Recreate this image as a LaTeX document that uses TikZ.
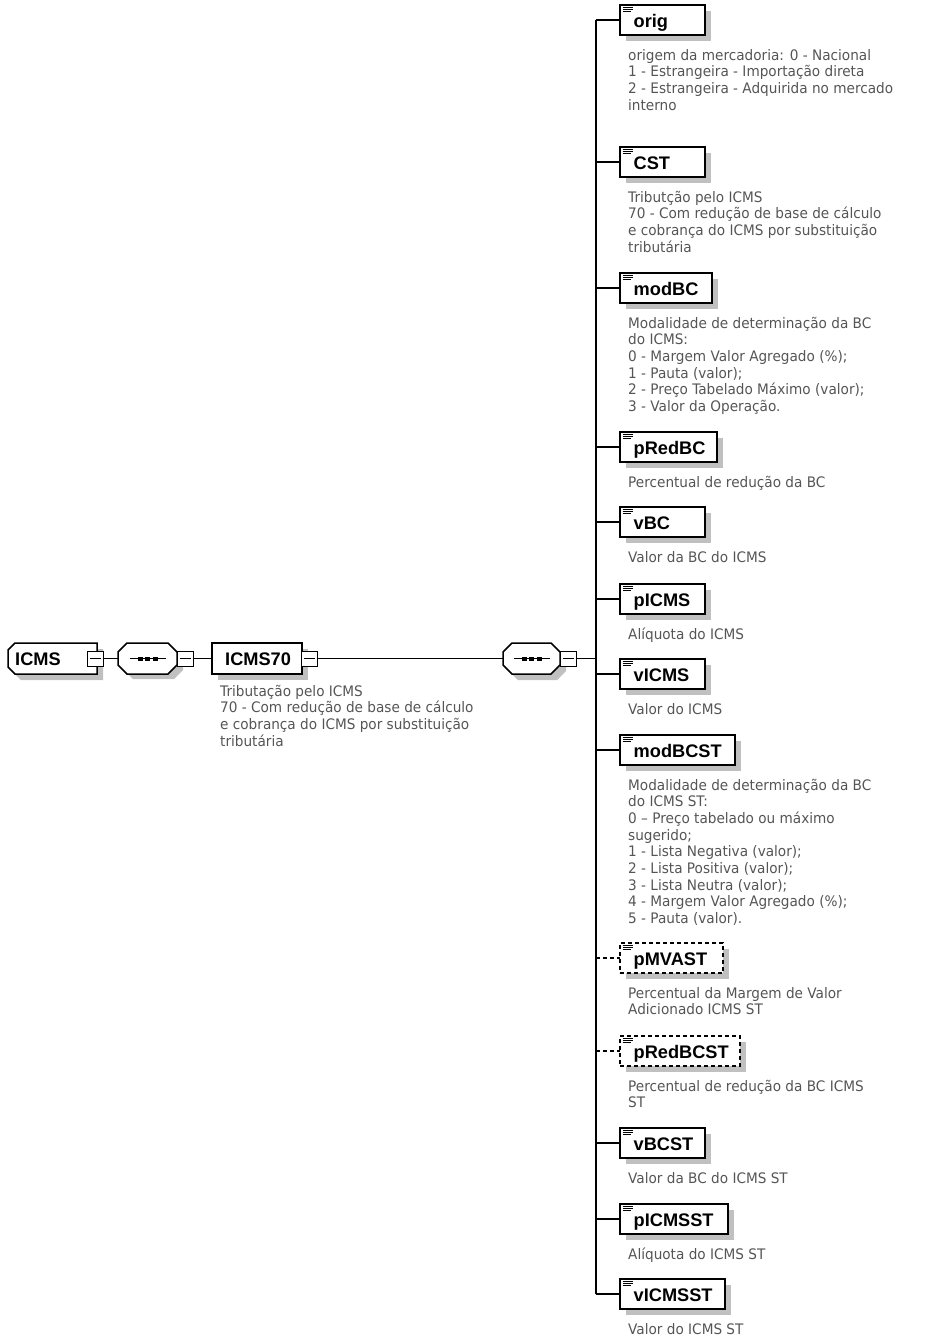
\documentclass[tikz,border=0pt]{standalone}
\usepackage{fontspec}
\usetikzlibrary{shadows}
\newfontfamily\lblfont{Liberation Sans}
\newfontfamily\descfont[FakeStretch=0.94]{DejaVu Sans}
\definecolor{shadowgray}{RGB}{192,192,192}
\definecolor{desctext}{RGB}{85,85,85}
\tikzset{
  conn/.style={line width=1.3pt},
  boxline/.style={line width=1.5pt, draw=black, fill=white},
  shadefill/.style={fill=shadowgray, draw=none},
  ebox/.style={draw=black, fill=white, line width=1.5pt, minimum height=30pt,
    inner sep=0pt, outer sep=0pt,
    drop shadow={shadow xshift=6pt, shadow yshift=-6pt, fill=shadowgray, opacity=1}},
  optbox/.style={dash pattern=on 4pt off 3pt},
  optline/.style={dash pattern=on 4pt off 3pt},
  reqline/.style={},
  reqbox/.style={},
  icon/.style={line width=1pt},
  lbl/.style={font=\lblfont\bfseries\fontsize{18.2}{20}\selectfont, inner sep=0pt, text=black},
  desc/.style={inner sep=0pt, text=desctext},
  minusbox/.style={draw=black, fill=white, line width=1pt, minimum width=16pt,
    minimum height=15pt, inner sep=0pt, outer sep=0pt,
    path picture={\draw[line width=1.2pt] ([xshift=2.5pt]path picture bounding box.west) -- ([xshift=-2.5pt]path picture bounding box.east);}},
  dot/.style={fill=black, draw=none, minimum width=5pt, minimum height=4pt, inner sep=0pt}
}
\newcommand\desctxt[1]{\parbox[t]{320pt}{\raggedright\descfont\fontsize{14.5}{16.7}\selectfont #1}}
% #1 name, #2 top y, #3 width, #4 label, #5 description, #6 box style, #7 line style
\newcommand\xelem[7]{%
  \node[ebox, #6, minimum width=#3pt, anchor=north west] (#1) at (620,#2) {};
  \draw[icon] ([xshift=2.5pt,yshift=-2.5pt]#1.north west) -- ++(10,0);
  \draw[icon] ([xshift=2.5pt,yshift=-4.5pt]#1.north west) -- ++(10,0);
  \draw[icon] ([xshift=2.5pt,yshift=-6.5pt]#1.north west) -- ++(8,0);
  \node[lbl, anchor=base west] (#1-t) at ([xshift=13.5pt,yshift=-22pt]#1.north west) {#4};
  \node[desc, anchor=base west] (#1-d) at ([xshift=8pt,yshift=-25pt]#1.south west) {\desctxt{#5}};
  \draw[conn, #7] (#1.west -| sp) -- (#1.west);
}
\begin{document}
\begin{tikzpicture}[x=1pt, y=-1pt]
\useasboundingbox (0,0) rectangle (927,1342);
\coordinate (sp) at (596,658.5);

% ICMS (left chamfered)
\fill[shadefill] (21,649) -- (103,649) -- (103,680) -- (21,680) -- (14,673) -- (14,656) -- cycle;
\node[inner sep=0pt, outer sep=0pt, minimum width=89pt, minimum height=31pt, anchor=north west] (icms) at (8,643) {};
\draw[boxline] (15,643) -- (97,643) -- (97,674) -- (15,674) -- (8,667) -- (8,650) -- cycle;
\node[lbl, anchor=base west] (icms-t) at (15,665) {ICMS};
\node[minusbox] (m1) at (95,658.5) {};

% sequence 1
\fill[shadefill] (133,649) -- (174,649) -- (183,658) -- (183,670) -- (174,679) -- (133,679) -- (124,670) -- (124,658) -- cycle;
\node[inner sep=0pt, outer sep=0pt, minimum width=59pt, minimum height=31pt, anchor=north west] (seq1) at (118,643) {};
\draw[boxline] (127,643) -- (168,643) -- (177,652) -- (177,665) -- (168,674) -- (127,674) -- (118,665) -- (118,652) -- cycle;
\draw[line width=1pt] ([xshift=-18pt]seq1.center) -- ([xshift=18pt]seq1.center);
\node[dot] at ([xshift=-7.5pt]seq1.center) {};
\node[dot] at (seq1.center) {};
\node[dot] at ([xshift=7.5pt]seq1.center) {};
\node[minusbox] (m2) at (185,658.5) {};

% ICMS70
\fill[shadefill] (218,649) rectangle (308,680);
\node[boxline, inner sep=0pt, outer sep=0pt, minimum width=90pt, minimum height=31pt, anchor=north west] (icms70) at (212,643) {};
\node[lbl, anchor=base west] (icms70-t) at (225,665) {ICMS70};
\node[minusbox] (m3) at (309.5,658.5) {};
\node[desc, anchor=base west] (icms70-d) at (220,696) {\desctxt{Tributação pelo ICMS\\70 - Com redução de base de cálculo\\e cobrança do ICMS por substituição\\tributária}};

% sequence 2
\fill[shadefill] (518,649) -- (557,649) -- (566,658) -- (566,671) -- (557,680) -- (518,680) -- (509,671) -- (509,658) -- cycle;
\node[inner sep=0pt, outer sep=0pt, minimum width=57pt, minimum height=31pt, anchor=north west] (seq2) at (503,643) {};
\draw[boxline] (512,643) -- (551,643) -- (560,652) -- (560,665) -- (551,674) -- (512,674) -- (503,665) -- (503,652) -- cycle;
\draw[line width=1pt] ([xshift=-18pt]seq2.center) -- ([xshift=18pt]seq2.center);
\node[dot] at ([xshift=-7.5pt]seq2.center) {};
\node[dot] at (seq2.center) {};
\node[dot] at ([xshift=7.5pt]seq2.center) {};
\node[minusbox] (m4) at (568.5,658.5) {};

% connectors on the left
\draw[conn] (m1.east) -- (m1.east -| seq1.west);
\draw[conn] (m2.east) -- (m2.east -| icms70.west);
\draw[conn] (m3.east) -- (m3.east -| seq2.west);
\draw[conn] (m4.east) -- (sp);

% elements
\xelem{orig}{5}{85}{orig}{origem da mercadoria: 0 - Nacional\\1 - Estrangeira - Importação direta\\2 - Estrangeira - Adquirida no mercado\\interno}{reqbox}{reqline}
\xelem{CST}{147}{85}{CST}{Tributção pelo ICMS\\70 - Com redução de base de cálculo\\e cobrança do ICMS por substituição\\tributária}{reqbox}{reqline}
\xelem{modBC}{273}{92}{modBC}{Modalidade de determinação da BC\\do ICMS:\\0 - Margem Valor Agregado (\%);\\1 - Pauta (valor);\\2 - Preço Tabelado Máximo (valor);\\3 - Valor da Operação.}{reqbox}{reqline}
\xelem{pRedBC}{432}{97}{pRedBC}{Percentual de redução da BC}{reqbox}{reqline}
\xelem{vBC}{507}{85}{vBC}{Valor da BC do ICMS}{reqbox}{reqline}
\xelem{pICMS}{584}{85}{pICMS}{Alíquota do ICMS}{reqbox}{reqline}
\xelem{vICMS}{659}{85}{vICMS}{Valor do ICMS}{reqbox}{reqline}
\xelem{modBCST}{735}{115}{modBCST}{Modalidade de determinação da BC\\do ICMS ST:\\0 – Preço tabelado ou máximo\\sugerido;\\1 - Lista Negativa (valor);\\2 - Lista Positiva (valor);\\3 - Lista Neutra (valor);\\4 - Margem Valor Agregado (\%);\\5 - Pauta (valor).}{reqbox}{reqline}
\xelem{pMVAST}{943}{103}{pMVAST}{Percentual da Margem de Valor\\Adicionado ICMS ST}{optbox}{optline}
\xelem{pRedBCST}{1036}{120}{pRedBCST}{Percentual de redução da BC ICMS\\ST}{optbox}{optline}
\xelem{vBCST}{1128}{85}{vBCST}{Valor da BC do ICMS ST}{reqbox}{reqline}
\xelem{pICMSST}{1204}{108}{pICMSST}{Alíquota do ICMS ST}{reqbox}{reqline}
\xelem{vICMSST}{1279}{105}{vICMSST}{Valor do ICMS ST}{reqbox}{reqline}

% spine
\draw[conn] (orig.west -| sp) -- (vICMSST.west -| sp);
\end{tikzpicture}
\end{document}
